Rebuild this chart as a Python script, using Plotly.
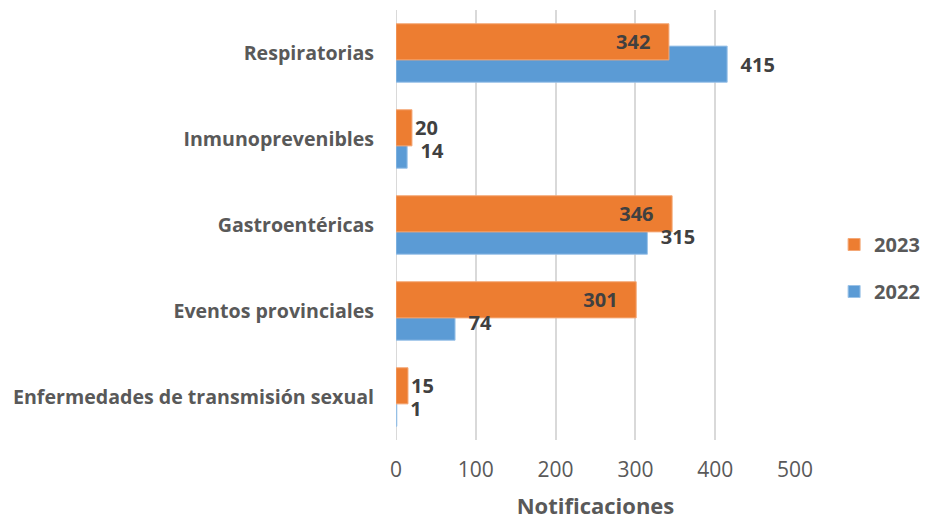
import plotly.graph_objects as go

categorias = ['Enfermedades de transmisión sexual', 'Eventos provinciales', 'Gastroentéricas',
              'Inmunoprevenibles', 'Respiratorias']
notif_2023 = [15, 301, 346, 20, 342]
notif_2022 = [1, 74, 315, 14, 415]
x_ticks = [0, 100, 200, 300, 400, 500]

FONT = 'Open Sans'
NB = '\u00a0'

# etiquetas: las barras largas de 2023 llevan el valor dentro, el resto fuera
pos_2023 = ['outside' if v < 100 else 'inside' for v in notif_2023]
txt_2023 = ['<b>%d</b>%s' % (v, NB * 3) if p == 'inside' else '<b>%d</b>' % v
            for v, p in zip(notif_2023, pos_2023)]
txt_2022 = ['%s<b>%d</b>' % (NB * 2, v) for v in notif_2022]

label_font = dict(family=FONT, size=20, color='#404040')

fig = go.Figure()

fig.add_trace(go.Bar(
    y=categorias, x=notif_2022, name='<b>2022</b>', orientation='h',
    marker=dict(color='#5B9BD5', line=dict(color='#9cc3e8', width=1)),
    offset=-0.34, width=0.42,
    legendgroup='b', legendrank=2, hoverinfo='x+name'
))

fig.add_trace(go.Bar(
    y=categorias, x=notif_2023, name='<b>2023</b>', orientation='h',
    marker=dict(color='#ED7D31', line=dict(color='#f4a877', width=1)),
    offset=-0.08, width=0.42,
    text=txt_2023, textposition=pos_2023,
    insidetextanchor='end',
    textfont=label_font, insidetextfont=label_font, outsidetextfont=label_font,
    cliponaxis=False, constraintext='none',
    legendgroup='a', legendrank=1, hoverinfo='x+name'
))

# etiquetas de 2022 en una capa encima de las barras naranjas
fig.add_trace(go.Bar(
    y=categorias, x=notif_2022, orientation='h', showlegend=False,
    marker=dict(color='rgba(0,0,0,0)', line=dict(width=0)),
    offset=-0.34, width=0.42,
    text=txt_2022, textposition='outside',
    textfont=label_font, cliponaxis=False, constraintext='none',
    hoverinfo='skip'
))

fig.update_layout(
    width=928, height=520,
    barmode='overlay',
    plot_bgcolor='white', paper_bgcolor='white',
    margin=dict(l=388, r=141, t=2, b=88, autoexpand=False),
    font=dict(family=FONT, color='#595959'),
    legend=dict(
        x=1.098, y=0.40, xanchor='left', yanchor='middle',
        traceorder='grouped', tracegroupgap=18, itemwidth=30,
        font=dict(size=20, color='#595959'),
    ),
    xaxis=dict(
        range=[0, 500], tickvals=x_ticks,
        showgrid=True, gridcolor='#d9d9d9', gridwidth=2,
        zeroline=False, showline=False,
        ticks='outside', ticklen=11, tickcolor='rgba(0,0,0,0)',
        tickfont=dict(size=21, color='#595959'),
        title=dict(text='<b>Notificaciones</b>', font=dict(size=22, color='#595959'), standoff=16),
    ),
    yaxis=dict(
        type='category', range=[-0.5, 4.5],
        showgrid=False, zeroline=False, showline=False,
        ticks='outside', ticklen=17, tickcolor='rgba(0,0,0,0)',
        tickfont=dict(size=19.6, color='#595959'),
        ticktext=['<b>%s</b>' % c for c in categorias], tickvals=categorias,
    ),
)

fig.add_shape(type='line', xref='x', yref='paper', x0=0, x1=0, y0=0, y1=1,
              line=dict(color='#d9d9d9', width=2), layer='below')

fig.write_html('out.html')
